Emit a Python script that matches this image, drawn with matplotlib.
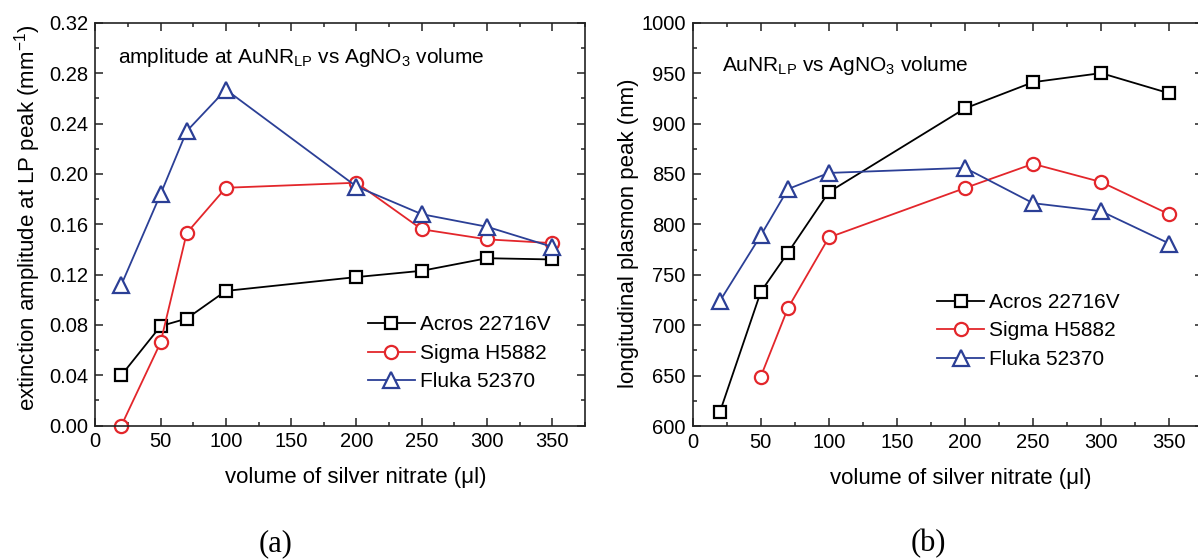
import matplotlib
matplotlib.use("Agg")
import matplotlib.pyplot as plt
from matplotlib.ticker import MultipleLocator, FormatStrFormatter

plt.rcParams['font.family'] = ['Liberation Sans', 'DejaVu Sans']
plt.rcParams['mathtext.fontset'] = 'custom'
plt.rcParams['mathtext.rm'] = 'Liberation Sans'
plt.rcParams['mathtext.it'] = 'Liberation Sans:italic'
plt.rcParams['mathtext.bf'] = 'Liberation Sans:bold'

# ---- data ----
volume = [20, 50, 70, 100, 200, 250, 300, 350]
volume_sigma_b = [50, 70, 100, 200, 250, 300, 350]

amp_acros = [0.040, 0.079, 0.085, 0.107, 0.118, 0.123, 0.133, 0.132]
amp_sigma = [0.000, 0.066, 0.153, 0.189, 0.193, 0.156, 0.148, 0.145]
amp_fluka = [0.112, 0.184, 0.234, 0.267, 0.190, 0.168, 0.158, 0.142]

peak_acros = [614, 733, 772, 832, 915, 941, 950, 930]
peak_sigma = [649, 717, 787, 836, 860, 842, 810]
peak_fluka = [724, 789, 835, 851, 856, 821, 813, 781]

labels = ["Acros 22716V", "Sigma H5882", "Fluka 52370"]
colors = ["black", "#e3262b", "#2b3f96"]
markers = ["s", "o", "^"]
msizes = [8.0, 9.5, 11.0]

W, H = 1198, 559
fig = plt.figure(figsize=(W / 100, H / 100), dpi=100)

def frac_axes(x0, x1, ytop, ybot):
    return fig.add_axes([x0 / W, (H - ybot) / H, (x1 - x0) / W, (ybot - ytop) / H])

axL = frac_axes(95.3, 585.0, 23.0, 425.5)
axR = frac_axes(692.7, 1203.2, 22.7, 426.0)

def style(ax):
    for s in ax.spines.values():
        s.set_linewidth(1.2)
        s.set_color('#222222')
    ax.xaxis.set_major_locator(MultipleLocator(50))
    ax.xaxis.set_minor_locator(MultipleLocator(25))
    ax.tick_params(which='both', direction='in', top=True, right=True,
                   width=1.1, color='#222222', labelsize=14.5, pad=5)
    ax.tick_params(which='major', length=5.8)
    ax.tick_params(which='minor', length=3.0)
    ax.set_xlim(0, 375)

def draw(ax, xs_list, ys_list):
    for xs, ys, lab, c, m, ms in zip(xs_list, ys_list, labels, colors, markers, msizes):
        ax.plot(xs, ys, color=c, lw=1.3, marker=m, ms=ms, mfc='white',
                mec=c, mew=1.6, label=lab, clip_on=False)

# left panel
style(axL)
axL.set_ylim(0, 0.32)
axL.yaxis.set_major_locator(MultipleLocator(0.04))
axL.yaxis.set_minor_locator(MultipleLocator(0.02))
axL.yaxis.set_major_formatter(FormatStrFormatter('%.2f'))
draw(axL, [volume, volume, volume], [amp_acros, amp_sigma, amp_fluka])
axL.set_xlabel("volume of silver nitrate (μl)", fontsize=16, va='center')
axL.xaxis.set_label_coords(0.5324, -0.1304)
axL.set_ylabel("extinction amplitude at LP peak (mm$^{-1}$)", fontsize=16, va='center')
axL.yaxis.set_label_coords(-0.1374, 0.5155)
axL.text(0.0464, 0.9014, r"amplitude at AuNR$_{\mathrm{LP}}$ vs AgNO$_3$ volume",
         transform=axL.transAxes, fontsize=15, va='baseline', ha='left')
axL.legend(loc='upper left', bbox_to_anchor=(0.556, 0.274), frameon=False,
           fontsize=15, handlelength=2.26, handletextpad=0.25, labelspacing=0.46,
           borderpad=0, borderaxespad=0, numpoints=1)

# right panel
style(axR)
axR.set_ylim(600, 1000)
axR.yaxis.set_major_locator(MultipleLocator(50))
axR.yaxis.set_minor_locator(MultipleLocator(25))
draw(axR, [volume, volume_sigma_b, volume], [peak_acros, peak_sigma, peak_fluka])
axR.set_xlabel("volume of silver nitrate (μl)", fontsize=16, va='center')
axR.xaxis.set_label_coords(0.5256, -0.129)
axR.set_ylabel("longitudinal plasmon peak (nm)", fontsize=16, va='center')
axR.yaxis.set_label_coords(-0.1267, 0.4786)
axR.text(0.0568, 0.881, r"AuNR$_{\mathrm{LP}}$ vs AgNO$_3$ volume",
         transform=axR.transAxes, fontsize=15, va='baseline', ha='left')
axR.legend(loc='upper left', bbox_to_anchor=(0.4786, 0.330), frameon=False,
           fontsize=15, handlelength=2.26, handletextpad=0.25, labelspacing=0.46,
           borderpad=0, borderaxespad=0, numpoints=1)

fig.text(276 / W, 8 / H, "(a)", family='Liberation Serif', fontsize=22,
         ha='center', va='baseline')
fig.text(928 / W, 8 / H, "(b)", family='Liberation Serif', fontsize=22,
         ha='center', va='baseline')

fig.savefig("out.png", dpi=100)
